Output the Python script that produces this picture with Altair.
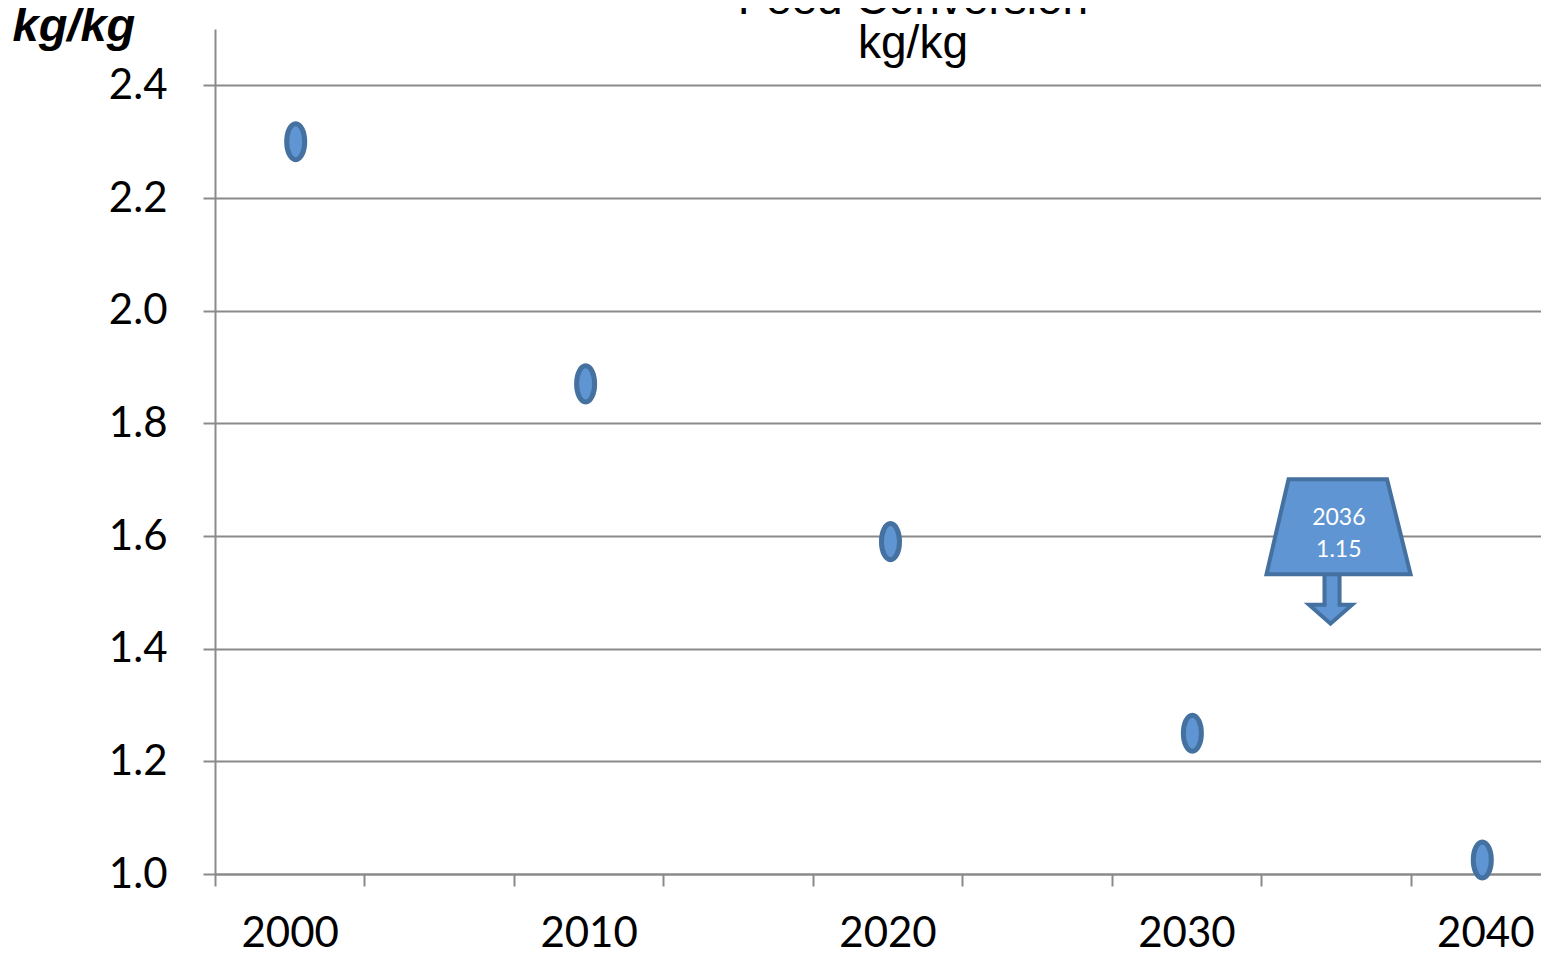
import altair as alt
import pandas as pd

# ---- data ----
years = [2000.2, 2009.9, 2020.1, 2030.2, 2039.9]
feed_conversion = [2.30, 1.87, 1.59, 1.25, 1.025]

y_tick_values = [1.0, 1.2, 1.4, 1.6, 1.8, 2.0, 2.2, 2.4]
x_label_years = [2000, 2010, 2020, 2030, 2040]
x_tick_bounds = [1997.5, 2002.5, 2007.5, 2012.5, 2017.5, 2022.5, 2027.5, 2032.5, 2037.5]

callout_year = ["2036"]
callout_value = ["1.15"]
callout_anchor_x = [2035.1]
callout_anchor_y = [1.573]

title_lines = ["Feed Conversion", "kg/kg"]
y_title = "kg/kg"

# ---- styles ----
GRAY = "#8a8a8a"
FILL = "#5f95d2"
STROKE = "#44719f"
ELLIPSE = "M0,-1A0.5,1,0,1,1,0,1A0.5,1,0,1,1,0,-1Z"
CALLOUT = ("M-0.684,-0.98L0.656,-0.98L0.976,0.313L-0.984,0.313Z"
           "M-0.195,0.313L0.01,0.313L0.01,0.728L0.18,0.728L-0.113,0.986L-0.405,0.728L-0.195,0.728Z")

df = pd.DataFrame({"year": years, "fcr": feed_conversion})
callout_df = pd.DataFrame({"x": callout_anchor_x, "y": callout_anchor_y,
                           "label_year": callout_year, "label_value": callout_value})

x_scale = alt.Scale(domain=[1997.5, 2042.5], nice=False, zero=False)
y_scale = alt.Scale(domain=[1.0, 2.5], nice=False, zero=False)

x_axis = alt.Axis(
    values=sorted(x_tick_bounds + x_label_years),
    grid=False, domainColor=GRAY, domainWidth=2,
    tickColor=GRAY, tickWidth=2, tickSize=12,
    tickOpacity={"condition": {"test": "datum.value % 10 == 0", "value": 0}, "value": 1},
    labelExpr="datum.value % 10 == 0 ? format(datum.value, 'd') : ''",
    labelFont="Lato", labelFontSize=42, labelColor="black",
    labelBaseline="alphabetic", labelPadding=60,
    labelOverlap=False, labelFlush=False, labelBound=False,
    title=None,
)
y_axis = alt.Axis(
    values=y_tick_values, format=".1f",
    grid=True, gridColor=GRAY, gridWidth=2,
    domainColor=GRAY, domainWidth=2,
    tickColor=GRAY, tickWidth=2, tickSize=12,
    labelFont="Lato", labelFontSize=42, labelColor="black", labelPadding=36,
    labelOverlap=False, labelFlush=False,
    title=y_title, titleAngle=0, titleAlign="left", titleBaseline="alphabetic",
    titleX=-203, titleY=11, titleFont="Liberation Sans", titleFontSize=47,
    titleFontStyle="italic", titleFontWeight="bold", titleColor="black",
)

points = alt.Chart(df).mark_point(
    shape=ELLIPSE, size=1300, filled=True, fill=FILL, stroke=STROKE,
    strokeWidth=5, opacity=1,
).encode(
    x=alt.X("year:Q", scale=x_scale, axis=x_axis),
    y=alt.Y("fcr:Q", scale=y_scale, axis=y_axis),
)

callout_shape = alt.Chart(callout_df).mark_point(
    shape=CALLOUT, size=21609, filled=True, fill=FILL, stroke=STROKE,
    strokeWidth=4, opacity=1,
).encode(x="x:Q", y="y:Q")

callout_t1 = alt.Chart(callout_df).mark_text(
    dy=-33, font="Lato", fontSize=23, color="white", baseline="middle",
).encode(x="x:Q", y="y:Q", text="label_year:N")

callout_t2 = alt.Chart(callout_df).mark_text(
    dy=-1, font="Lato", fontSize=23, color="white", baseline="middle",
).encode(x="x:Q", y="y:Q", text="label_value:N")

title1 = alt.Chart(pd.DataFrame({"t": [title_lines[0]]})).mark_text(
    font="Liberation Sans", fontSize=46, color="black", baseline="alphabetic", align="center",
).encode(x=alt.value(698), y=alt.value(-15), text="t:N")

title2 = alt.Chart(pd.DataFrame({"t": [title_lines[1]]})).mark_text(
    font="Liberation Sans", fontSize=46, color="black", baseline="alphabetic", align="center",
).encode(x=alt.value(698), y=alt.value(29), text="t:N")

chart = alt.layer(points, callout_shape, callout_t1, callout_t2, title1, title2).properties(
    width=1345, height=845,
    padding={"left": 207, "top": 21, "right": -19, "bottom": 88},
    autosize=alt.AutoSizeParams(type="none"),
    background="white",
).configure_view(stroke=None)

chart.save("out.html", embed_options={"renderer": "svg", "actions": False})
